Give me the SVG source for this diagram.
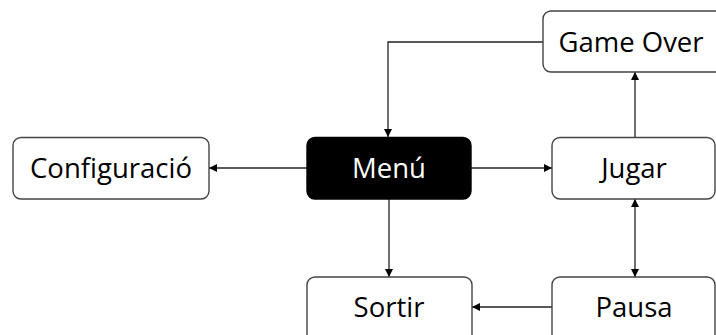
<svg xmlns="http://www.w3.org/2000/svg" width="716" height="335" viewBox="0 0 716 335">
<style>
.box{fill:#fff;stroke:#444;stroke-width:1.4}
.dark{fill:#000;stroke:#000;stroke-width:1.4}
.t{font-family:"Open Sans","DejaVu Sans",sans-serif;font-size:27.5px;fill:#000;text-anchor:middle;dominant-baseline:central}
.tw{fill:#fff}
.c{fill:none;stroke:#222;stroke-width:1.3}
</style>
<defs>
<marker id="a" viewBox="0 0 10 10" refX="10" refY="5" markerWidth="8" markerHeight="8" markerUnits="userSpaceOnUse" orient="auto-start-reverse"><path d="M0,0 L10,5 L0,10 z" fill="#000"/></marker>
</defs>
<rect width="716" height="335" fill="#fff"/>
<g id="connectors">
<path class="c" d="M543,42 H388 V137" marker-end="url(#a)"/>
<path class="c" d="M635,137 V72" marker-end="url(#a)"/>
<path class="c" d="M307,168 H209" marker-end="url(#a)"/>
<path class="c" d="M471,168 H552" marker-end="url(#a)"/>
<path class="c" d="M389,199 V277" marker-end="url(#a)"/>
<path class="c" d="M635,199 V277" marker-start="url(#a)" marker-end="url(#a)"/>
<path class="c" d="M552,307 H472" marker-end="url(#a)"/>
</g>
<g id="configuracio"><rect class="box" x="13" y="137.5" width="196" height="61.5" rx="8"/><text class="t" x="111" y="167">Configuració</text></g>
<g id="menu"><rect class="dark" x="307" y="137.5" width="164" height="61.5" rx="8"/><text class="t tw" x="389" y="167">Menú</text></g>
<g id="jugar"><rect class="box" x="552" y="137.5" width="163" height="61.5" rx="8"/><text class="t" x="634" y="167">Jugar</text></g>
<g id="gameover"><rect class="box" x="543" y="11" width="180" height="61" rx="8"/><text class="t" x="631" y="41">Game Over</text></g>
<g id="sortir"><rect class="box" x="307" y="277" width="165" height="70" rx="8"/><text class="t" x="389" y="306">Sortir</text></g>
<g id="pausa"><rect class="box" x="552" y="277" width="163" height="70" rx="8"/><text class="t" x="634" y="306">Pausa</text></g>
</svg>
